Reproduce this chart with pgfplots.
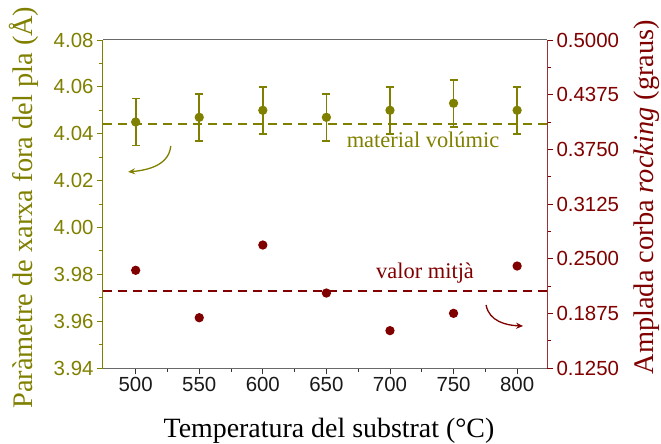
\documentclass[border=0pt]{standalone}
\usepackage{fontspec}
\setmainfont{Liberation Serif}
\setsansfont{Liberation Sans}
\usepackage{pgfplots}
\pgfplotsset{compat=1.18}
\usetikzlibrary{arrows.meta}

\definecolor{olivec}{RGB}{128,128,0}
\definecolor{darkred}{RGB}{128,0,0}
\definecolor{spine}{RGB}{105,105,105}

\pgfplotsset{
  common/.style={
    scale only axis, width=444bp, height=328bp,
    xmin=474.3, xmax=823.5,
    tick align=outside,
    major tick length=6bp, minor tick length=3.5bp,
    /pgf/number format/assume math mode=true,
    ticklabel style={font=\fontsize{20.5}{24}\selectfont\sffamily},
    every axis plot/.append style={line width=1.6bp},
  },
}

\begin{document}
\begin{tikzpicture}
% lattice parameter (left axis)
\begin{axis}[common,
  axis x line*=bottom, axis y line*=left,
  x axis line style={-, draw=spine, line width=1bp},
  y axis line style={-, draw=olivec, line width=1bp},
  ymin=3.94, ymax=4.08,
  xtick={500,550,...,800}, minor x tick num=1,
  ytick={3.94,3.96,...,4.081}, minor y tick num=1,
  x tick style={draw=black!80, line width=0.8bp},
  y tick style={draw=olivec, line width=0.8bp},
  xticklabel style={text=black!90},
  yticklabel style={text=olivec, /pgf/number format/.cd, fixed, fixed zerofill, precision=2},
  xticklabel style={/pgf/number format/.cd, 1000 sep={}},
  xlabel={Temperatura del substrat (°C)},
  xlabel style={font=\fontsize{28}{32}\selectfont, text=black,
    at={(axis description cs:0.5,0)}, anchor=base, xshift=4bp, yshift=-69bp},
  ylabel={Paràmetre de xarxa fora del pla (Å)},
  ylabel style={font=\fontsize{28.5}{32}\selectfont, text=olivec,
    at={(axis description cs:0,0.489)}, anchor=center, yshift=79bp},
  clip=false,
]
\addplot[olivec, line width=1.8bp, dash pattern=on 9bp off 6bp]
  coordinates {(474.3,4.044) (823.5,4.044)};
\addplot[olivec, only marks, mark=*, mark size=3.8bp,
  error bars/.cd, y dir=both, y explicit,
  error bar style={line width=1.8bp, olivec},
  error mark options={rotate=90, mark size=4bp, line width=1.8bp, olivec}]
  coordinates {
    (500,4.045) +- (0,0.010)
    (550,4.047) +- (0,0.010)
    (600,4.050) +- (0,0.010)
    (650,4.047) +- (0,0.010)
    (700,4.050) +- (0,0.010)
    (750,4.053) +- (0,0.010)
    (800,4.050) +- (0,0.010)
  };
\node[font=\fontsize{22.5}{26}\selectfont, text=olivec, anchor=base]
  at (axis cs:726,4.0341) {material volúmic};
\draw[olivec, line width=1.3bp, -{Stealth[length=7bp,width=6bp]}]
  (axis cs:527.6,4.0348) to[out=-95,in=5] (axis cs:494,4.0237);
\end{axis}

% rocking curve width (right axis)
\begin{axis}[common,
  axis x line*=top, axis y line*=right,
  x axis line style={-, draw=spine, line width=1bp},
  y axis line style={-, draw=darkred!80, line width=1bp},
  xtick=\empty,
  ymin=0.125, ymax=0.5,
  ytick={0.125,0.1875,0.25,0.3125,0.375,0.4375,0.5}, minor y tick num=1,
  y tick style={draw=darkred, line width=0.8bp},
  yticklabel style={text=darkred, /pgf/number format/.cd, fixed, fixed zerofill, precision=4},
  ylabel={Amplada corba \textit{rocking} (graus)},
  ylabel style={font=\fontsize{28.5}{32}\selectfont, text=darkred,
    at={(axis description cs:1,0.521)}, anchor=center, yshift=-100bp},
  clip=false,
]
\addplot[darkred, line width=1.8bp, dash pattern=on 9bp off 6bp]
  coordinates {(474.3,0.2132) (823.5,0.2132)};
\addplot[darkred, only marks, mark=*, mark size=3.8bp]
  coordinates {
    (500,0.2367)
    (550,0.1825)
    (600,0.2656)
    (650,0.2107)
    (700,0.1677)
    (750,0.1875)
    (800,0.2416)
  };
\node[font=\fontsize{22.5}{26}\selectfont, text=darkred, anchor=base]
  at (axis cs:727.6,0.2271) {valor mitjà};
\draw[darkred, line width=1.3bp, -{Stealth[length=7bp,width=6bp]}]
  (axis cs:775.6,0.197) to[out=-80,in=178] (axis cs:804.7,0.173);
\end{axis}
\pgfresetboundingbox
\useasboundingbox (-103bp,-76bp) rectangle (558bp,368bp);
\end{tikzpicture}
\end{document}
